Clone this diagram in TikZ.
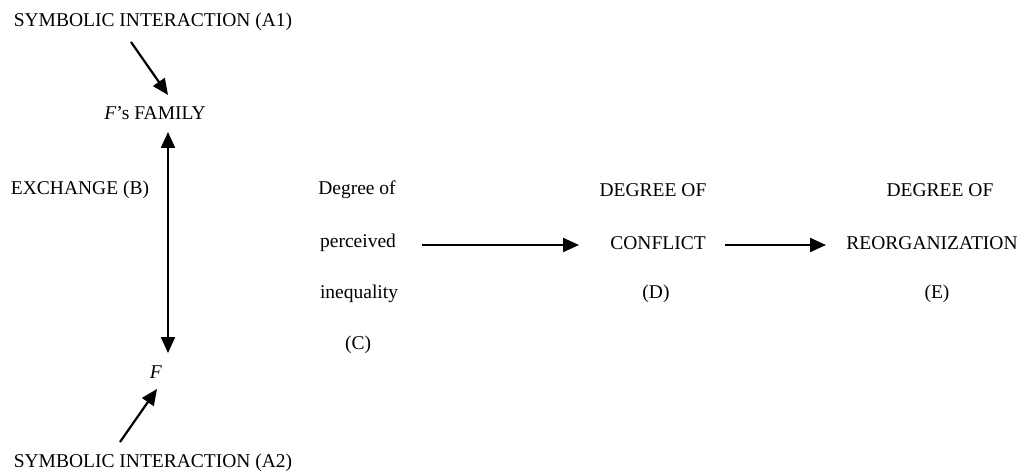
\documentclass[tikz,border=0pt]{standalone}
\usepackage{fontspec}
\setmainfont{Liberation Serif}
\usetikzlibrary{arrows.meta}
\begin{document}
\begin{tikzpicture}[x=1pt,y=-1pt,
  lbl/.style={inner sep=0pt,font=\fontsize{19.5}{22}\selectfont},
  conn/.style={line width=2.2pt,-{Triangle[length=16pt,width=14pt]}},
  dconn/.style={line width=2.2pt,{Triangle[length=16pt,width=14pt]}-{Triangle[length=16pt,width=14pt]}}]
\useasboundingbox (0,0) rectangle (1028,476);
% left column
\node[lbl] (a1) at (153,22) {SYMBOLIC INTERACTION (A1)};
\node[lbl] (fam) at (155,113) {\textit{F}’s FAMILY};
\node[lbl] (ex) at (80,190) {EXCHANGE (B)};
\node[lbl] (f) at (156,372) {\textit{F}};
\node[lbl] (a2) at (153,463) {SYMBOLIC INTERACTION (A2)};
% column C
\node[lbl] (c1) at (357,190) {Degree of};
\node[lbl] (c2) at (358,243) {perceived};
\node[lbl] (c3) at (359,294) {inequality};
\node[lbl] (c4) at (358,345) {(C)};
% column D
\node[lbl] (d1) at (653,190) {DEGREE OF};
\node[lbl] (d2) at (658,243) {CONFLICT};
\node[lbl] (d3) at (656,294) {(D)};
% column E
\node[lbl] (e1) at (940,190) {DEGREE OF};
\node[lbl] (e2) at (932,243) {REORGANIZATION};
\node[lbl] (e3) at (937,294) {(E)};
% connector ends
\coordinate (a1s) at (131,42);
\coordinate (a1e) at (168,95);
\coordinate (bt) at (168,132);
\coordinate (bb) at (168,353);
\coordinate (a2s) at (120,442);
\coordinate (a2e) at (157,389);
\coordinate (cds) at (422,245);
\coordinate (cde) at (579,245);
\coordinate (des) at (725,245);
\coordinate (dee) at (826,245);
\draw[conn] (a1s) -- (a1e);
\draw[dconn] (bt) -- (bb);
\draw[conn] (a2s) -- (a2e);
\draw[conn] (cds) -- (cde);
\draw[conn] (des) -- (dee);
\end{tikzpicture}
\end{document}
